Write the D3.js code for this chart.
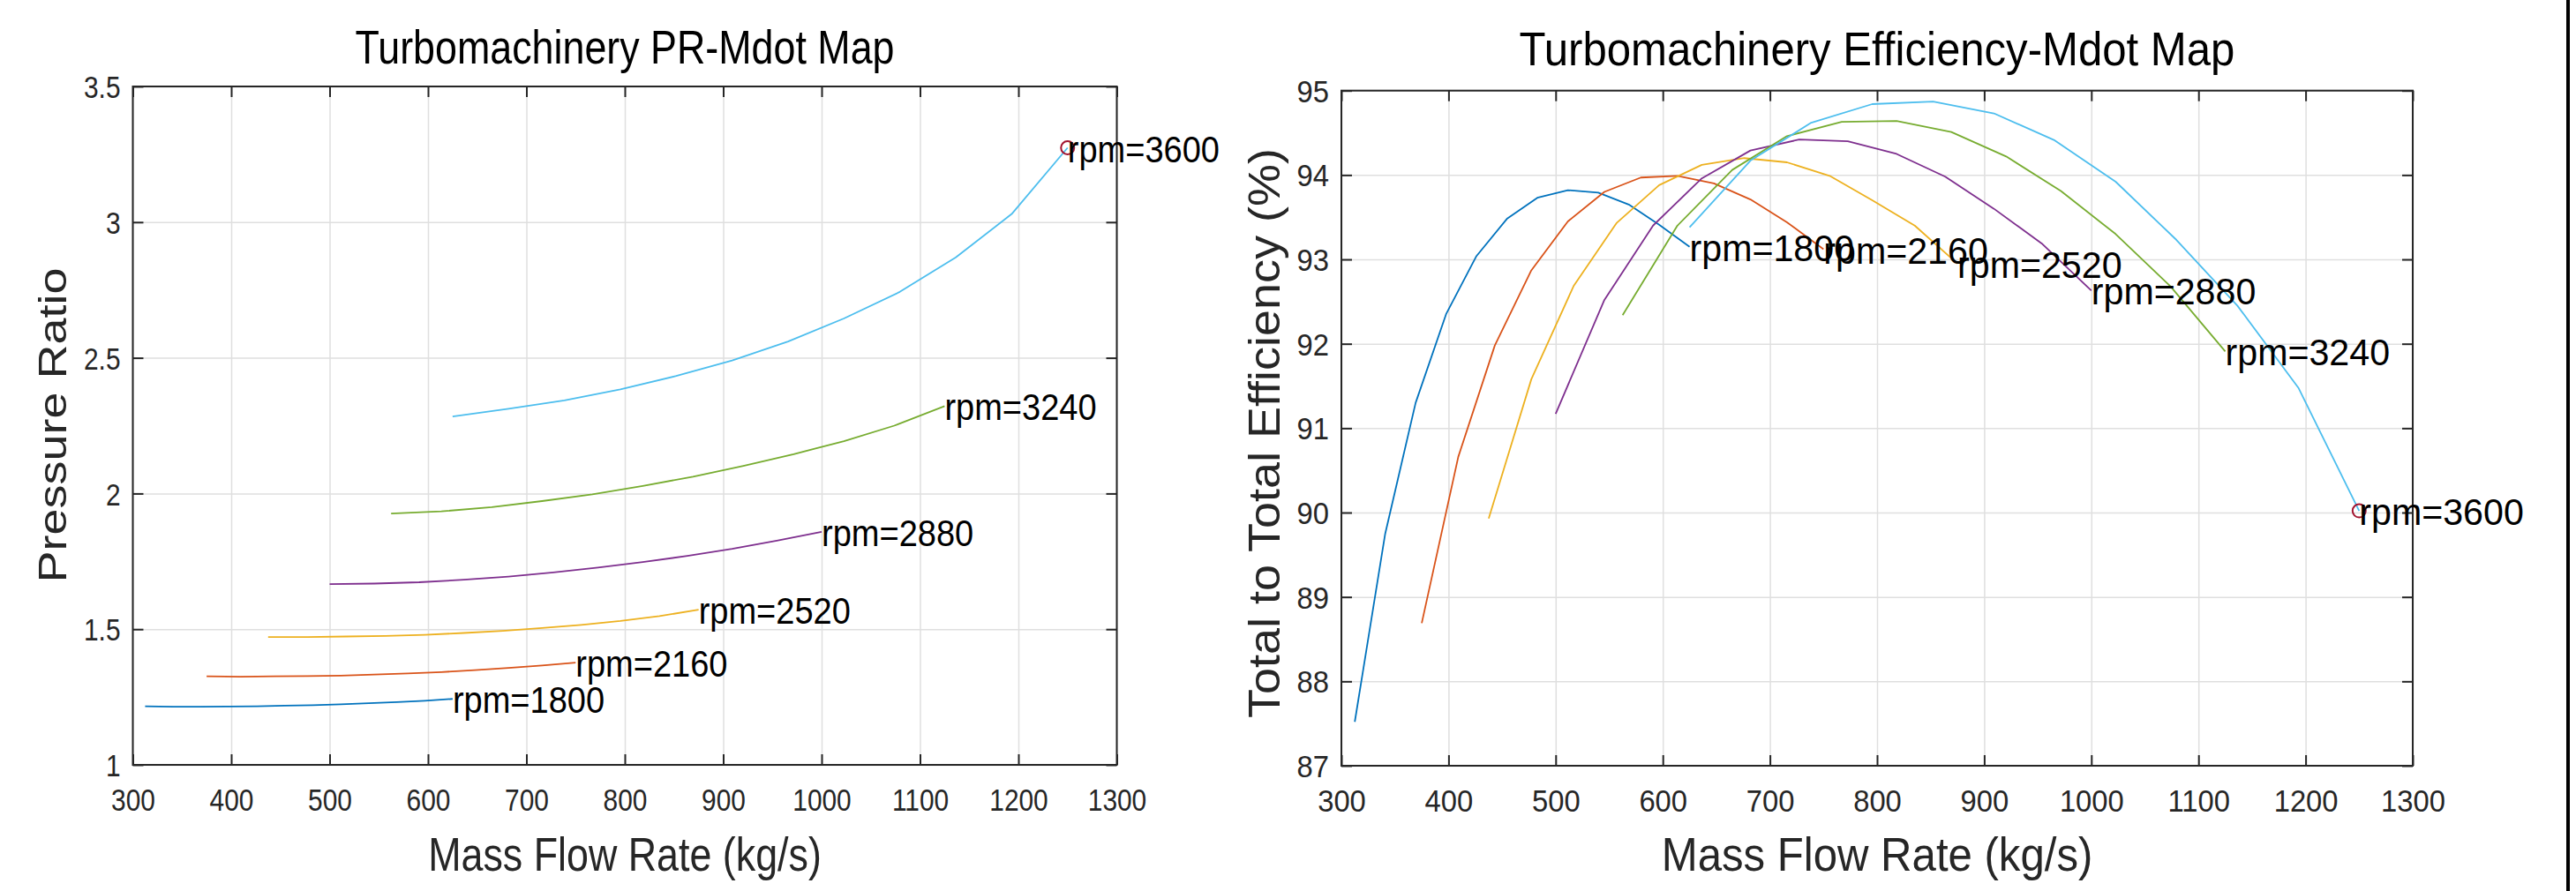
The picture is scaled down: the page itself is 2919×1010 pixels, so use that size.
<!DOCTYPE html>
<html>
<head>
<meta charset="utf-8">
<script src="https://cdn.jsdelivr.net/npm/d3@7"></script>
<style>
body { margin: 0; background: #fff; }
svg { display: block; font-family: "Liberation Sans", Arial, Helvetica, sans-serif; }
</style>
</head>
<body>
<svg id="chart" width="2919" height="1010"></svg>
<script>
// speed lines of the map, one row per rpm
const rpms = [1800, 2160, 2520, 2880, 3240, 3600];
const colors = ['#0072BD', '#D95319', '#EDB120', '#7E2F8E', '#77AC30', '#4DBEEE'];

const mdot = [
  [312.5, 340.9, 369.3, 397.7, 426.1, 454.5, 482.9, 511.4, 539.8, 568.2, 596.6, 625.0],
  [375.0, 409.1, 443.2, 477.3, 511.4, 545.5, 579.5, 613.6, 647.7, 681.8, 715.9, 750.0],
  [437.5, 477.3, 517.0, 556.8, 596.6, 636.4, 676.1, 715.9, 755.7, 795.5, 835.2, 875.0],
  [500.0, 545.5, 590.9, 636.4, 681.8, 727.3, 772.7, 818.2, 863.6, 909.1, 954.5, 1000.0],
  [562.5, 613.6, 664.8, 715.9, 767.0, 818.2, 869.3, 920.5, 971.6, 1022.7, 1073.9, 1125.0],
  [625.0, 681.8, 738.6, 795.5, 852.3, 909.1, 965.9, 1022.7, 1079.5, 1136.4, 1193.2, 1250.0]
];

const pressureRatio = [
  [1.216, 1.214, 1.214, 1.215, 1.216, 1.218, 1.220, 1.223, 1.227, 1.231, 1.236, 1.243],
  [1.326, 1.325, 1.326, 1.327, 1.329, 1.333, 1.337, 1.342, 1.349, 1.357, 1.366, 1.377],
  [1.471, 1.471, 1.473, 1.475, 1.479, 1.486, 1.494, 1.504, 1.516, 1.530, 1.548, 1.572],
  [1.666, 1.668, 1.673, 1.682, 1.694, 1.709, 1.727, 1.747, 1.770, 1.796, 1.826, 1.859],
  [1.926, 1.934, 1.950, 1.972, 1.997, 2.028, 2.062, 2.102, 2.145, 2.193, 2.250, 2.322],
  [2.284, 2.312, 2.343, 2.384, 2.433, 2.490, 2.560, 2.645, 2.743, 2.870, 3.030, 3.274]
];

const efficiency = [
  [87.52, 89.75, 91.30, 92.35, 93.04, 93.48, 93.73, 93.82, 93.79, 93.65, 93.41, 93.15],
  [88.69, 90.66, 91.98, 92.87, 93.45, 93.80, 93.97, 93.99, 93.90, 93.71, 93.44, 93.12],
  [89.93, 91.58, 92.69, 93.43, 93.88, 94.12, 94.20, 94.15, 93.99, 93.70, 93.40, 92.95],
  [91.17, 92.52, 93.40, 93.96, 94.29, 94.42, 94.40, 94.25, 93.98, 93.60, 93.18, 92.63],
  [92.34, 93.40, 94.06, 94.46, 94.63, 94.64, 94.51, 94.22, 93.81, 93.30, 92.68, 91.91],
  [93.38, 94.17, 94.62, 94.84, 94.87, 94.73, 94.41, 93.92, 93.23, 92.45, 91.48, 90.02]
];

const xTicks = [300, 400, 500, 600, 700, 800, 900, 1000, 1100, 1200, 1300];
const prTicks = [1, 1.5, 2, 2.5, 3, 3.5];
const effTicks = [87, 88, 89, 90, 91, 92, 93, 94, 95];

const svg = d3.select('#chart');
svg.append('rect').attr('width', 2919).attr('height', 1010).attr('fill', '#fff');

const axisColor = '#262626';

const panels = [
  {
    title: 'Turbomachinery PR-Mdot Map', ylabel: 'Pressure Ratio',
    values: pressureRatio, yDomain: [1, 3.5], yTicks: prTicks,
    left: 150.5, right: 1265.5, top: 98, bottom: 867,
    sx: 0.83, annSx: 0.905, titleY: 72, ylabelX: 75, ylabelY: 482
  },
  {
    title: 'Turbomachinery Efficiency-Mdot Map', ylabel: 'Total to Total Efficiency (%)',
    values: efficiency, yDomain: [87, 95], yTicks: effTicks,
    left: 1520, right: 2734, top: 102.7, bottom: 868,
    sx: 0.91, annSx: 0.98, titleY: 74, ylabelX: 1450, ylabelY: 491
  }
];

panels.forEach(drawPanel);

// thin black frame edge on the right of the figure
svg.append('rect').attr('x', 2908).attr('y', 0).attr('width', 4).attr('height', 1010).attr('fill', '#000');

function drawPanel(p) {
  const x = d3.scaleLinear().domain([300, 1300]).range([p.left, p.right]);
  const y = d3.scaleLinear().domain(p.yDomain).range([p.bottom, p.top]);
  const w = p.right - p.left;
  const h = p.bottom - p.top;
  const cx = (p.left + p.right) / 2;
  const g = svg.append('g');

  // grid
  g.append('g')
    .attr('transform', `translate(0,${p.bottom})`)
    .call(d3.axisBottom(x).tickValues(xTicks).tickSize(-h).tickFormat(''))
    .call(a => a.select('.domain').remove())
    .selectAll('line').attr('stroke', '#dfdfdf').attr('stroke-width', 1.5);
  g.append('g')
    .attr('transform', `translate(${p.left},0)`)
    .call(d3.axisLeft(y).tickValues(p.yTicks).tickSize(-w).tickFormat(''))
    .call(a => a.select('.domain').remove())
    .selectAll('line').attr('stroke', '#dfdfdf').attr('stroke-width', 1.5);

  // box
  g.append('rect')
    .attr('x', p.left).attr('y', p.top).attr('width', w).attr('height', h)
    .attr('fill', 'none').attr('stroke', axisColor).attr('stroke-width', 2);

  // ticks on all four sides, pointing inwards
  const bottomAxis = g.append('g')
    .attr('transform', `translate(0,${p.bottom})`)
    .call(d3.axisBottom(x).tickValues(xTicks).tickSizeInner(-12).tickSizeOuter(0).tickFormat(d => d));
  const leftAxis = g.append('g')
    .attr('transform', `translate(${p.left},0)`)
    .call(d3.axisLeft(y).tickValues(p.yTicks).tickSizeInner(-12).tickSizeOuter(0).tickFormat(d => d));
  const topAxis = g.append('g')
    .attr('transform', `translate(0,${p.top})`)
    .call(d3.axisTop(x).tickValues(xTicks).tickSizeInner(-12).tickSizeOuter(0).tickFormat(''));
  const rightAxis = g.append('g')
    .attr('transform', `translate(${p.right},0)`)
    .call(d3.axisRight(y).tickValues(p.yTicks).tickSizeInner(-12).tickSizeOuter(0).tickFormat(''));

  [bottomAxis, leftAxis, topAxis, rightAxis].forEach(a => {
    a.select('.domain').remove();
    a.selectAll('line').attr('stroke', axisColor).attr('stroke-width', 2);
  });
  topAxis.selectAll('text').remove();
  rightAxis.selectAll('text').remove();

  bottomAxis.selectAll('text')
    .attr('y', 52).attr('dy', null)
    .attr('fill', axisColor)
    .style('font-size', '36px')
    .style('font-family', '"Liberation Sans", Arial, sans-serif')
    .attr('transform', `scale(${p.sx},1)`);
  leftAxis.selectAll('text')
    .attr('x', -14 / p.sx).attr('dy', '0.35em')
    .attr('fill', axisColor)
    .style('font-size', '36px')
    .style('font-family', '"Liberation Sans", Arial, sans-serif')
    .attr('transform', `scale(${p.sx},1)`);

  // speed lines
  const line = d3.line().x(d => x(d[0])).y(d => y(d[1]));
  rpms.forEach((rpm, k) => {
    const pts = mdot[k].map((m, i) => [m, p.values[k][i]]);
    g.append('path')
      .datum(pts)
      .attr('d', line)
      .attr('fill', 'none')
      .attr('stroke', colors[k])
      .attr('stroke-width', 1.8)
      .attr('stroke-linejoin', 'round');
  });

  // design point marker on the top speed line
  const last = rpms.length - 1;
  const n = mdot[last].length - 1;
  g.append('circle')
    .attr('cx', x(mdot[last][n]))
    .attr('cy', y(p.values[last][n]))
    .attr('r', 7.5)
    .attr('fill', 'none')
    .attr('stroke', '#A2142F')
    .attr('stroke-width', 2);

  // labels at the end of each speed line
  rpms.forEach((rpm, k) => {
    const i = mdot[k].length - 1;
    g.append('g')
      .attr('transform', `translate(${x(mdot[k][i])},${y(p.values[k][i]) + 16}) scale(${p.annSx},1)`)
      .append('text')
      .attr('font-size', 42)
      .attr('fill', '#000')
      .text('rpm=' + rpm);
  });

  // title and axis labels
  g.append('g')
    .attr('transform', `translate(${cx},${p.titleY}) scale(${p.sx},1)`)
    .append('text')
    .attr('text-anchor', 'middle')
    .attr('font-size', 54)
    .attr('fill', '#000')
    .text(p.title);

  g.append('g')
    .attr('transform', `translate(${cx},987) scale(${p.sx},1)`)
    .append('text')
    .attr('text-anchor', 'middle')
    .attr('font-size', 54)
    .attr('fill', axisColor)
    .text('Mass Flow Rate (kg/s)');

  g.append('g')
    .attr('transform', `translate(${p.ylabelX},${p.ylabelY}) scale(${p.sx},1) rotate(-90)`)
    .append('text')
    .attr('text-anchor', 'middle')
    .attr('font-size', 54)
    .attr('fill', axisColor)
    .text(p.ylabel);
}
</script>
</body>
</html>
